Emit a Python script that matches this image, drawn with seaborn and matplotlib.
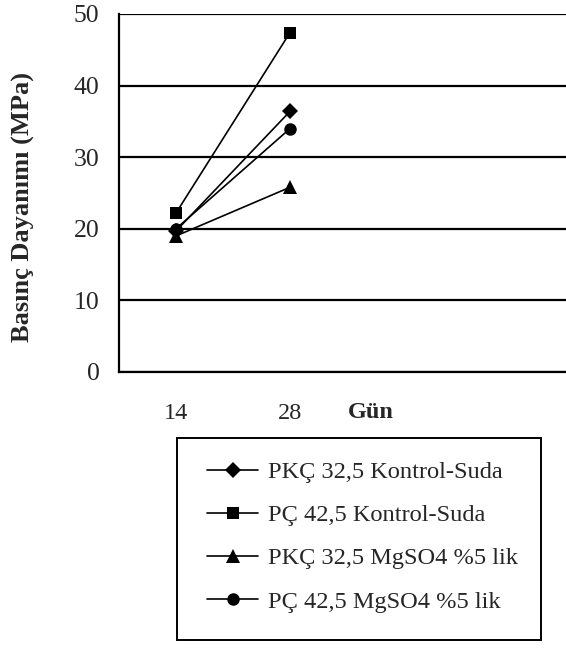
import matplotlib
matplotlib.use("Agg")
import matplotlib.pyplot as plt
from matplotlib.lines import Line2D
from matplotlib.patches import Rectangle
import seaborn as sns
import pandas as pd

# Compressive strength (MPa) at 14 and 28 days
days = ["14", "28"]
series = [
    "PKÇ 32,5 Kontrol-Suda",
    "PÇ 42,5 Kontrol-Suda",
    "PKÇ 32,5 MgSO4 %5 lik",
    "PÇ 42,5 MgSO4 %5 lik",
]
pkc_kontrol = [19.7, 36.4]
pc_kontrol = [22.2, 47.4]
pkc_mgso4 = [19.0, 25.8]
pc_mgso4 = [20.0, 34.0]
y_ticks = [0, 10, 20, 30, 40, 50]

values = [pkc_kontrol, pc_kontrol, pkc_mgso4, pc_mgso4]
rows = []
for name, vals in zip(series, values):
    for i, v in enumerate(vals):
        rows.append({"pos": i, "seri": name, "val": v})
df = pd.DataFrame(rows)

sns.set_style("white")
plt.rcParams["font.family"] = ["Liberation Serif", "DejaVu Serif"]

W, H = 566, 648
fig = plt.figure(figsize=(W / 100, H / 100), dpi=100)
ax = fig.add_axes([119 / W, 276 / H, 456 / W, 358 / H])

markers = {series[0]: "D", series[1]: "s", series[2]: "^", series[3]: "o"}
msize = {"D": 8, "s": 8.3, "^": 9.5, "o": 9}
for s in series:
    sns.lineplot(data=df[df["seri"] == s], x="pos", y="val", color="black",
                 marker=markers[s], markersize=msize[markers[s]],
                 markeredgewidth=0, linewidth=1.2, ax=ax, legend=False)

ax.set_xlim(-0.5, 3.5)
ax.set_ylim(0, 50)
ax.set_yticks(y_ticks)
ax.set_yticklabels([str(t) for t in y_ticks], fontsize=18.5)
ax.yaxis.grid(True, color="black", linewidth=1.6)
ax.set_axisbelow(True)

# category boundaries as major ticks, day labels as minor ticks
ax.set_xticks([-0.5, 0.5, 1.5, 2.5])
ax.set_xticklabels([])
ax.set_xticks([0, 1], minor=True)
ax.set_xticklabels(days, minor=True, fontsize=17.5)
ax.tick_params(axis="x", which="major", direction="out", length=7, width=1.6, color="black")
ax.tick_params(axis="x", which="minor", length=0, pad=22)
ax.tick_params(axis="y", direction="out", length=7, width=1.6, color="black", pad=7)
ax.set_xlabel("")
ax.set_ylabel("")
ax.text(1.71, -0.112, "Gün", transform=ax.get_xaxis_transform(),
        ha="center", va="center", fontsize=17.5, fontweight="bold")

for side in ["top", "right"]:
    ax.spines[side].set_visible(False)
for side in ["left", "bottom"]:
    ax.spines[side].set_color("black")
    ax.spines[side].set_linewidth(1.6)

fig.text(23 / W, 1 - 342 / H, "Basınç Dayanımı (MPa)", rotation=90,
         ha="center", va="bottom", fontsize=19, fontweight="bold")

# legend box
fig.patches.append(Rectangle((177 / W, 1 - 640 / H), 364 / W, 202 / H,
                             transform=fig.transFigure, fill=False,
                             edgecolor="black", linewidth=1.4))
handles = [Line2D([], [], color="black", linewidth=1.2, marker=markers[s],
                  markeredgewidth=0, markersize=msize[markers[s]]) for s in series]
leg = fig.legend(handles, series, loc="upper left",
                 bbox_to_anchor=(207 / W, 1 - 461 / H),
                 fontsize=17.6, frameon=False,
                 handlelength=2.1, handletextpad=0.4, labelspacing=0.86,
                 borderpad=0, borderaxespad=0)

fig.savefig("out.png", dpi=100)
